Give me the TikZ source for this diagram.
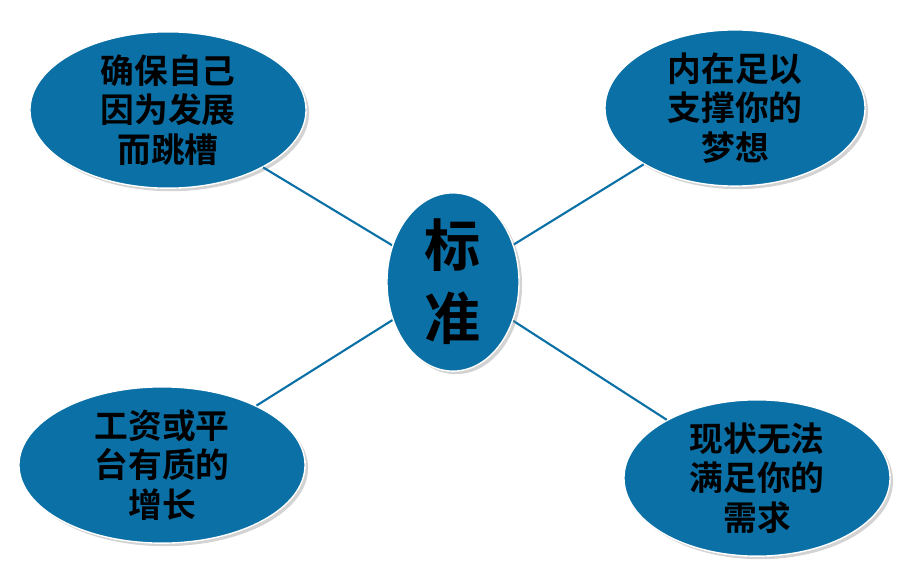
\documentclass[tikz,border=0pt]{standalone}
\usepackage{fontspec}
\newfontfamily\cjk{Noto Sans CJK SC Bold}
\usetikzlibrary{shapes.geometric,shadows}
\definecolor{blu}{HTML}{0B70A6}
\begin{document}
\begin{tikzpicture}[x=0.025cm,y=-0.025cm,
  bub/.style={ellipse,fill=blu,draw=white,line width=1pt,drop shadow={opacity=0.35},inner sep=0pt,align=center,font=\cjk\fontsize{24}{28}\selectfont},
  lnk/.style={draw=blu,line width=1.5pt}]
\useasboundingbox (0,0) rectangle (913,572);
\node[bub,minimum width=6.9cm,minimum height=3.3cm] (tl) at (168,110) {确保自己\\因为发展\\而跳槽};
\node[bub,minimum width=6.5cm,minimum height=3.3cm] (tr) at (735,108) {内在足以\\支撑你的\\梦想};
\node[bub,minimum width=7.15cm,minimum height=3.4cm] (bl) at (162,465) {工资或平\\台有质的\\增长};
\node[bub,minimum width=6.65cm,minimum height=3.4cm] (br) at (757,478) {现状无法\\满足你的\\需求};
\draw[lnk] (453,282) -- (tl); \draw[lnk] (453,282) -- (tr);
\draw[lnk] (453,282) -- (bl); \draw[lnk] (453,282) -- (br);
\node[bub,minimum width=3.3cm,minimum height=3.7cm,font=\cjk\fontsize{40}{52}\selectfont] (c) at (453,282) {标\\准};
\end{tikzpicture}
\end{document}
